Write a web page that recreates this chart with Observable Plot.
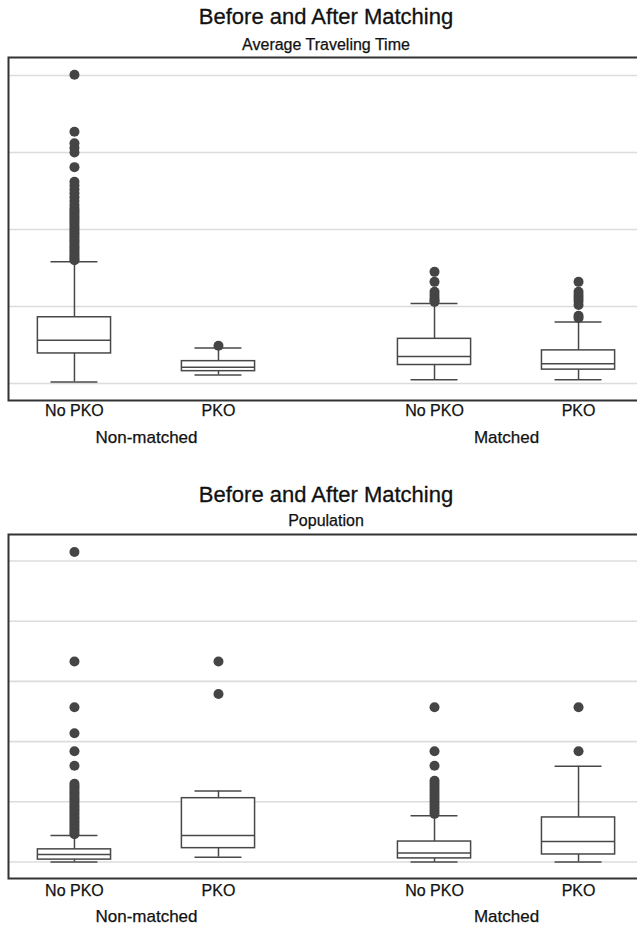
<!DOCTYPE html>
<html>
<head>
<meta charset="utf-8">
<script src="https://cdn.jsdelivr.net/npm/d3@7"></script>
<script src="https://cdn.jsdelivr.net/npm/@observablehq/plot@0.6"></script>
<style>
  html, body { margin: 0; padding: 0; background: #fff; }
  #page { position: relative; width: 637px; height: 930px; overflow: hidden; font-family: "Liberation Sans", Arial, Helvetica, sans-serif; color: #111; }
  .title { position: absolute; left: 8px; width: 636px; text-align: center; font-size: 22px; line-height: 22px; -webkit-text-stroke: 0.3px #111; }
  .subtitle { position: absolute; left: 8px; width: 636px; text-align: center; font-size: 16px; line-height: 16px; -webkit-text-stroke: 0.25px #111; }
  .panel { position: absolute; left: 0; width: 645px; }
  .panel svg { max-width: none !important; }
</style>
</head>
<body>
<div id="page">
  <div class="title" style="top:6px">Before and After Matching</div>
  <div class="subtitle" style="top:37px">Average Traveling Time</div>
  <div class="panel" id="p1" style="top:55px"></div>
  <div class="title" style="top:484px">Before and After Matching</div>
  <div class="subtitle" style="top:513px">Population</div>
  <div class="panel" id="p2" style="top:532px"></div>
</div>
<script>
// ---- categories ----
const boxLabels = ["No PKO", "PKO", "No PKO", "PKO"];
const boxGroups = ["Non-matched", "Non-matched", "Matched", "Matched"];
const boxPositions = [0, 1, 2.5, 3.5];
const groupLabels = ["Non-matched", "Matched"];
const groupPositions = [0.5, 3.0];
const gridTicks1 = [0, 100, 200, 300, 400];
const gridTicks2 = [0, 100, 200, 300, 400, 500];

// ---- Panel 1: Average Traveling Time (box statistics) ----
const travelLow    = [2, 11, 5, 5];
const travelQ1     = [39, 16, 24, 18];
const travelMedian = [56, 21, 35, 25.5];
const travelQ3     = [86, 29, 58, 43];
const travelHigh   = [158, 46, 104, 80];
const travelOutNMNoPKO = [401, 327, 312, 306, 300, 281, 262, 257, 252, 247, 242, 237, 232, 228, 225, 222, 219, 216, 213, 210, 207, 204, 201, 198, 195, 192, 189, 186, 183, 180, 177, 174, 171, 168, 165, 162, 160];
const travelOutNMPKO   = [49];
const travelOutMNoPKO  = [145, 132, 119, 115, 111, 108, 106];
const travelOutMPKO    = [132, 119, 115, 111, 107, 102, 88, 85];

// ---- Panel 2: Population (box statistics) ----
const popLow    = [0, 8, 0, 0];
const popQ1     = [4, 23, 6, 12.5];
const popMedian = [12.5, 44, 15, 34];
const popQ3     = [21, 106, 34, 74];
const popHigh   = [44, 118, 77, 159];
const popOutNMNoPKO = [515, 333, 257, 214, 184, 160, 130, 126, 122, 118, 114, 110, 106, 102, 98, 94, 90, 86, 82, 78, 74, 70, 66, 62, 58, 54, 50, 46];
const popOutNMPKO   = [333, 279];
const popOutMNoPKO  = [257, 184, 160, 135, 130, 125, 120, 115, 110, 105, 100, 95, 90, 85, 80];
const popOutMPKO    = [257, 184];

const BOX_HALF = 0.254;
const CAP_HALF = 0.163;
const LINE = "#484848";

function buildBoxes(low, q1, med, q3, high) {
  return boxPositions.map((p, i) => ({
    pos: p, label: boxLabels[i], group: boxGroups[i],
    x1: p - BOX_HALF, x2: p + BOX_HALF, c1: p - CAP_HALF, c2: p + CAP_HALF,
    low: low[i], q1: q1[i], med: med[i], q3: q3[i], high: high[i]
  }));
}
function buildOutliers(lists) {
  const out = [];
  lists.forEach((vals, i) => vals.forEach(v => out.push({pos: boxPositions[i], value: v})));
  return out;
}

function panel({boxes, outliers, yDomain, grid, height, marginBottom, tickDy, groupDy}) {
  const ticks = boxes.map(b => ({pos: b.pos, label: b.label}));
  const groups = groupPositions.map((p, i) => ({pos: p, label: groupLabels[i]}));
  const svg = Plot.plot({
    width: 645,
    height,
    marginLeft: 8,
    marginRight: 1,
    marginTop: 2,
    marginBottom,
    style: {fontFamily: '"Liberation Sans", Arial, Helvetica, sans-serif', color: "#111", background: "#fff", overflow: "visible", maxWidth: "none"},
    x: {domain: [-0.458, 3.958], axis: null},
    y: {domain: yDomain, axis: null},
    marks: [
      Plot.ruleY(grid, {y: d => d, stroke: "#dcdcdc", strokeWidth: 1.6}),
      // whiskers
      Plot.ruleX(boxes, {x: "pos", y1: "q3", y2: "high", stroke: LINE, strokeWidth: 1.5}),
      Plot.ruleX(boxes, {x: "pos", y1: "low", y2: "q1", stroke: LINE, strokeWidth: 1.5}),
      Plot.ruleY(boxes, {y: "high", x1: "c1", x2: "c2", stroke: LINE, strokeWidth: 1.5}),
      Plot.ruleY(boxes, {y: "low", x1: "c1", x2: "c2", stroke: LINE, strokeWidth: 1.5}),
      // boxes
      Plot.rect(boxes, {x1: "x1", x2: "x2", y1: "q1", y2: "q3", fill: "white", stroke: LINE, strokeWidth: 1.5}),
      Plot.ruleY(boxes, {y: "med", x1: "x1", x2: "x2", stroke: LINE, strokeWidth: 1.5}),
      // outliers
      Plot.dot(outliers, {x: "pos", y: "value", r: 5, fill: "#454545", stroke: "none"}),
      // frame
      Plot.frame({stroke: "#333", strokeWidth: 2}),
      // axis labels
      Plot.text(ticks, {x: "pos", text: "label", frameAnchor: "bottom", dy: tickDy, fontSize: 16, fill: "#111", stroke: "#111", strokeWidth: 0.25}),
      Plot.text(groups, {x: "pos", text: "label", frameAnchor: "bottom", dy: groupDy, fontSize: 17, fill: "#111", stroke: "#111", strokeWidth: 0.25})
    ]
  });
  svg.style.maxWidth = "none";
  return svg;
}

document.getElementById("p1").append(panel({
  boxes: buildBoxes(travelLow, travelQ1, travelMedian, travelQ3, travelHigh),
  outliers: buildOutliers([travelOutNMNoPKO, travelOutNMPKO, travelOutMNoPKO, travelOutMPKO]),
  yDomain: [-22.1, 423.4], grid: gridTicks1,
  height: 400, marginBottom: 55, tickDy: 15, groupDy: 42
}));
document.getElementById("p2").append(panel({
  boxes: buildBoxes(popLow, popQ1, popMedian, popQ3, popHigh),
  outliers: buildOutliers([popOutNMNoPKO, popOutNMPKO, popOutMNoPKO, popOutMPKO]),
  yDomain: [-27.4, 544], grid: gridTicks2,
  height: 398, marginBottom: 52, tickDy: 17, groupDy: 43
}));
</script>
</body>
</html>
